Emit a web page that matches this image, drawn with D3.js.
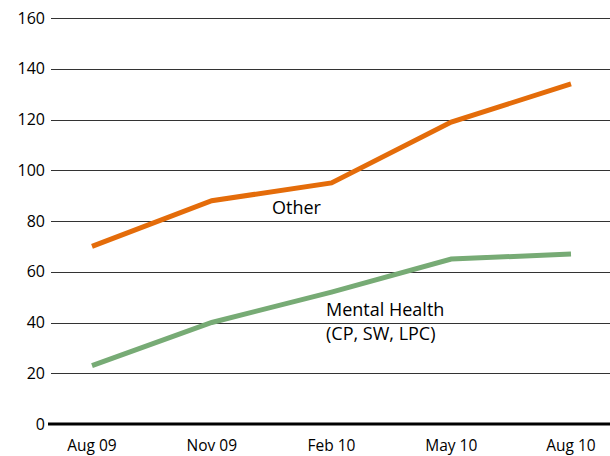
<!DOCTYPE html>
<html><head><meta charset="utf-8">
<script src="https://cdn.jsdelivr.net/npm/d3@7"></script>
<style>body{margin:0;background:#fff}svg{display:block}text{font-family:"Open Sans",sans-serif;fill:#000}</style>
</head><body>
<svg id="c" width="610" height="456"></svg>
<script>
const categories = ["Aug 09","Nov 09","Feb 10","May 10","Aug 10"];
const otherValues = [70, 88, 95, 119, 134];
const mentalValues = [23, 40, 52, 65, 67];
const yTicks = [0,20,40,60,80,100,120,140,160];

const svg = d3.select("#c");
const x = d3.scalePoint().domain(categories).range([92, 571]);
const y = d3.scaleLinear().domain([0,160]).range([424, 18]);

// gridlines
svg.append("g").selectAll("line").data(yTicks.filter(d=>d>0)).join("line")
  .attr("x1",51).attr("x2",610)
  .attr("y1",d=>Math.round(y(d))+0.5).attr("y2",d=>Math.round(y(d))+0.5)
  .attr("stroke","#333").attr("stroke-width",1);

// y labels
svg.append("g").selectAll("text").data(yTicks).join("text")
  .attr("x",45).attr("y",d=>y(d)).attr("dy","0.35em")
  .attr("text-anchor","end").attr("font-size",16).text(d=>d);

// x axis baseline
svg.append("line").attr("x1",48).attr("x2",610).attr("y1",y(0)).attr("y2",y(0))
  .attr("stroke","#000").attr("stroke-width",3);

// x labels
svg.append("g").selectAll("text").data(categories).join("text")
  .attr("x",d=>x(d)).attr("y",451).attr("text-anchor","middle")
  .attr("font-size",15.5).text(d=>d);

const line = d3.line().x((d,i)=>x(categories[i])).y(d=>y(d));
svg.append("path").datum(otherValues).attr("d",line)
  .attr("fill","none").attr("stroke","#E46C0A").attr("stroke-width",5);
svg.append("path").datum(mentalValues).attr("d",line)
  .attr("fill","none").attr("stroke","#77AB75").attr("stroke-width",5);

svg.append("text").attr("x",272).attr("y",214).attr("font-size",18).text("Other");
svg.append("text").attr("x",326).attr("y",316).attr("font-size",18).text("Mental Health");
svg.append("text").attr("x",326).attr("y",340).attr("font-size",18).text("(CP, SW, LPC)");
</script>
</body></html>
